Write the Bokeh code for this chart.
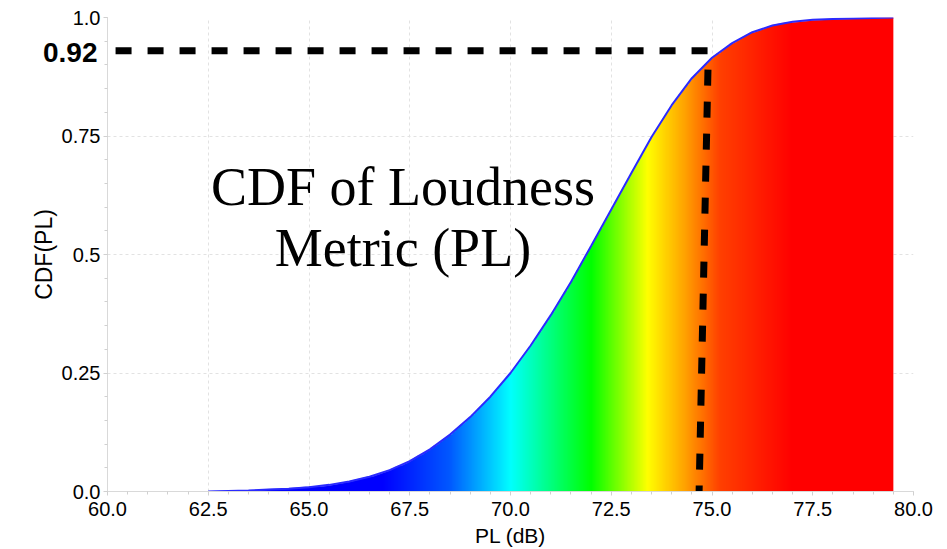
import math
import numpy as np
from bokeh.plotting import figure
from bokeh.models import FixedTicker, Label, Range1d
from bokeh.embed import file_html
from bokeh.resources import INLINE

# ---- data ----
pl_db = [62.5, 63.0, 63.5, 64.0, 64.5, 65.0, 65.5, 66.0, 66.5, 67.0, 67.5, 68.0,
         68.5, 69.0, 69.5, 70.0, 70.5, 71.0, 71.5, 72.0, 72.5, 73.0, 73.5, 74.0,
         74.5, 75.0, 75.5, 76.0, 76.5, 77.0, 77.5, 78.0, 78.5, 79.0, 79.5]
cdf = [0.000, 0.001, 0.002, 0.004, 0.006, 0.009, 0.014, 0.021, 0.031, 0.045, 0.064, 0.089,
       0.120, 0.157, 0.200, 0.250, 0.308, 0.372, 0.442, 0.518, 0.595, 0.672, 0.748, 0.815,
       0.872, 0.915, 0.946, 0.969, 0.983, 0.991, 0.995, 0.997, 0.998, 0.999, 1.000]

x_ticks = [60.0, 62.5, 65.0, 67.5, 70.0, 72.5, 75.0, 77.5, 80.0]
x_tick_labels = ["60.0", "62.5", "65.0", "67.5", "70.0", "72.5", "75.0", "77.5", "80.0"]
x_minor = [60 + 0.5 * i for i in range(41)]
y_ticks = [0.0, 0.25, 0.5, 0.75, 1.0]
y_tick_labels = ["0.0", "0.25", "0.5", "0.75", "1.0"]
y_minor = [0.05 * i for i in range(21)]
y_axis_title = "CDF(PL)"
x_axis_title = "PL (dB)"

marker_label = "0.92"
marker_h_x = [60.2, 74.9]
marker_h_y = [0.93, 0.93]
marker_v_x = [74.9, 74.68]
marker_v_y = [0.89, 0.0]

title_lines = ["CDF of Loudness", "Metric (PL)"]

# gradient colour stops (dB position -> RGB), a jet-like map
stop_x = [62.5, 66.8, 68.5, 70.0, 72.0, 73.4, 74.3, 75.2, 77.0, 79.5]
stop_r = [0, 0, 0, 0, 0, 255, 255, 255, 255, 255]
stop_g = [0, 0, 90, 255, 255, 255, 165, 64, 0, 0]
stop_b = [255, 255, 255, 255, 0, 0, 0, 0, 0, 0]

# ---- figure ----
p = figure(width=947, height=549, output_backend="svg", toolbar_location=None,
           x_range=Range1d(60, 80), y_range=Range1d(0, 1),
           min_border_left=107, min_border_right=34, min_border_top=17,
           min_border_bottom=57)
p.outline_line_color = None
p.background_fill_color = "white"
p.border_fill_color = "white"

# gradient fill under the CDF curve (raster, alpha-masked by the curve)
x0, x1 = pl_db[0], pl_db[-1]
ytop = max(cdf)
nx, ny = 900, 520
xc = x0 + (np.arange(nx) + 0.5) * (x1 - x0) / nx
yc = (np.arange(ny) + 0.5) * ytop / ny
r = np.interp(xc, stop_x, stop_r)
g = np.interp(xc, stop_x, stop_g)
b = np.interp(xc, stop_x, stop_b)
top = np.interp(xc, pl_db, cdf)
cov = np.clip((top[None, :] - yc[:, None]) / (ytop / ny) + 0.5, 0, 1)
img = np.zeros((ny, nx), dtype=np.uint32)
v = img.view(dtype=np.uint8).reshape((ny, nx, 4))
v[..., 0] = r[None, :].astype(np.uint8)
v[..., 1] = g[None, :].astype(np.uint8)
v[..., 2] = b[None, :].astype(np.uint8)
v[..., 3] = (cov * 255).astype(np.uint8)
p.image_rgba(image=[img], x=x0, y=0, dw=x1 - x0, dh=ytop)

p.line(pl_db, cdf, line_color="#2a2aff", line_width=2)

p.line(marker_h_x, marker_h_y, line_color="black", line_width=7, line_dash="16 16")
p.line(marker_v_x, marker_v_y, line_color="black", line_width=7, line_dash="16 16")

# ---- axes / grid ----
p.xaxis.ticker = FixedTicker(ticks=x_ticks, minor_ticks=x_minor)
p.yaxis.ticker = FixedTicker(ticks=y_ticks, minor_ticks=y_minor)
p.xaxis.major_label_overrides = dict(zip(x_ticks, x_tick_labels))
p.yaxis.major_label_overrides = dict(zip(y_ticks, y_tick_labels))

for ax in (p.xaxis, p.yaxis):
    ax.axis_line_color = "#d9d9d9"
    ax.major_tick_line_color = "#d0d0d0"
    ax.minor_tick_line_color = "#d0d0d0"
    ax.major_tick_in = 0
    ax.major_tick_out = 4
    ax.minor_tick_in = 0
    ax.minor_tick_out = 3
    ax.major_label_text_font = "Liberation Sans"
    ax.major_label_text_font_size = "20px"
    ax.major_label_text_color = "black"
    ax.axis_label_text_font = "Liberation Sans"
    ax.axis_label_text_font_style = "normal"
    ax.axis_label_text_color = "black"

p.xaxis.axis_label = x_axis_title
p.xaxis.axis_label_text_font_size = "21px"
p.xaxis.major_label_standoff = 6
p.xaxis.axis_label_standoff = 5
p.yaxis.major_label_standoff = 3

p.xgrid.ticker = FixedTicker(ticks=x_ticks)
p.ygrid.ticker = FixedTicker(ticks=y_ticks)
for gr in (p.xgrid, p.ygrid):
    gr.grid_line_color = "#e2e2e2"
    gr.grid_line_dash = "3 3"
    gr.grid_line_width = 1

# ---- annotations ----
# texts in the left margin live in side panels so that they are not clipped
p.add_layout(Label(x=60, y=marker_h_y[0], x_offset=-10, y_offset=-2, text=marker_label,
                   text_align="right", text_baseline="middle",
                   text_font="Liberation Sans", text_font_style="bold",
                   text_font_size="28px", text_color="black"), "left")
p.add_layout(Label(x=60, y=0.5, x_offset=-64, text=y_axis_title, angle=math.pi / 2,
                   text_align="center", text_baseline="middle",
                   text_font="Liberation Sans", text_font_size="23px",
                   text_color="black"), "right")
p.add_layout(Label(x=67.33, y=0.642, text=title_lines[0], text_align="center",
                   text_baseline="alphabetic", text_font="Liberation Serif",
                   text_font_size="54px", text_color="black"))
p.add_layout(Label(x=67.33, y=0.514, text=title_lines[1], text_align="center",
                   text_baseline="alphabetic", text_font="Liberation Serif",
                   text_font_size="54px", text_color="black"))

open("out.html", "w").write(file_html(p, INLINE))
